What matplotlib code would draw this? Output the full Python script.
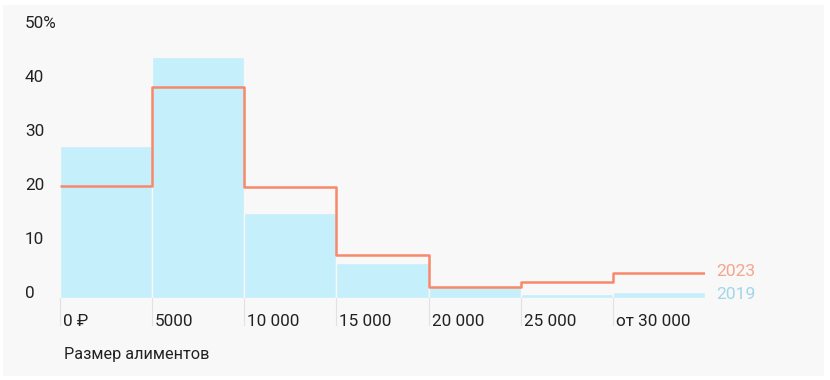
import matplotlib
matplotlib.use("Agg")
import matplotlib.pyplot as plt
from matplotlib.patches import Rectangle
import matplotlib.transforms as mtransforms

plt.rcParams['font.family'] = ['Roboto', 'DejaVu Sans']

categories = ["0 ₽", "5000", "10 000", "15 000", "20 000", "25 000", "от 30 000"]
values_2019 = [28.0, 44.4, 15.6, 6.4, 2.0, 0.7, 1.1]
values_2023 = [20.6, 39.0, 20.5, 7.9, 2.1, 2.9, 4.6]
yticks = [0, 10, 20, 30, 40, 50]
ytick_labels = ["0", "10", "20", "30", "40", "50%"]
series_names = ["2019", "2023"]
xlabel = "Размер алиментов"

W, H = 830, 380
fig = plt.figure(figsize=(W / 100, H / 100), dpi=100)
fig.patch.set_facecolor("white")
fig.add_artist(Rectangle((3 / W, 4 / H), 821 / W, 371 / H, transform=fig.transFigure,
                         facecolor="#f8f8f8", edgecolor="none", zorder=0))

left, right, bottom, top = 60, 705, 298, 27
ax = fig.add_axes([left / W, (H - bottom) / H, (right - left) / W, (bottom - top) / H])
ax.set_facecolor("none")
n = len(categories)
ax.set_xlim(0, n)
ax.set_ylim(0, 50)
for s in ax.spines.values():
    s.set_visible(False)
ax.set_yticks([])
ax.set_xticks([])

# 2019 bars
ax.bar(range(n), values_2019, width=1, align="edge", color="#c6effc",
       edgecolor="#f8f8f8", linewidth=1, zorder=2)

# 2023 step line
xs = list(range(n + 1))
ys = values_2023 + [values_2023[-1]]
ax.step(xs, ys, where="post", color="#f7886a", linewidth=1.8, zorder=3,
        solid_joinstyle="round", solid_capstyle="butt")

# vertical tick lines below the axis
for i in range(n):
    ax.plot([i, i], [0, -27 / 5.42], color="#e2e2e2", linewidth=0.8,
            clip_on=False, zorder=1)
    ax.text(i, 0, categories[i], ha="left", va="center", fontsize=12.3, color="#222222",
            transform=ax.transData + mtransforms.ScaledTranslation(3 / 100, -24 / 100, fig.dpi_scale_trans))

# y tick labels
btr = mtransforms.blended_transform_factory(fig.transFigure, ax.transData)
for v, lab in zip(yticks, ytick_labels):
    ax.text(25 / W, v, lab, ha="left", va="center", fontsize=12.3, color="#222222",
            transform=btr + mtransforms.ScaledTranslation(0, 4 / 100, fig.dpi_scale_trans))

# series labels
ax.text(n, values_2023[-1], series_names[1], ha="left", va="center", fontsize=12.6,
        color="#f4a58e", clip_on=False,
        transform=ax.transData + mtransforms.ScaledTranslation(11 / 100, 2 / 100, fig.dpi_scale_trans))
ax.text(n, values_2019[-1], series_names[0], ha="left", va="center", fontsize=12.6,
        color="#a3d6ea", clip_on=False,
        transform=ax.transData + mtransforms.ScaledTranslation(11 / 100, -2 / 100, fig.dpi_scale_trans))

fig.text(64 / W, (H - 354) / H, xlabel, ha="left", va="center", fontsize=11.7, color="#222222")

fig.savefig("out.png", dpi=100, facecolor="white")
